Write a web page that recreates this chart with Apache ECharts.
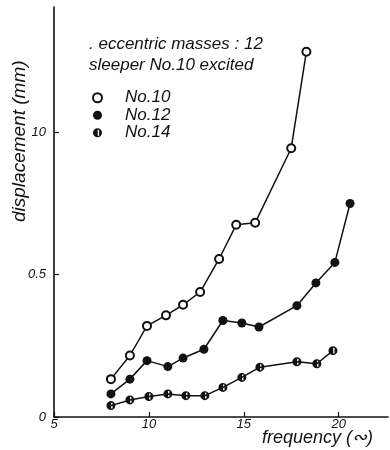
<!DOCTYPE html>
<html><head><meta charset="utf-8">
<script src="https://cdn.jsdelivr.net/npm/echarts@6/dist/echarts.min.js"></script>
<style>html,body{margin:0;padding:0;background:#fff}#c{width:390px;height:450px}</style>
</head><body><div id="c"></div>
<script>
// Data
var freq10 = [8.0, 9.0, 9.9, 10.9, 11.8, 12.7, 13.7, 14.6, 15.6, 17.5, 18.3];
var disp10 = [0.133, 0.216, 0.320, 0.357, 0.394, 0.439, 0.555, 0.675, 0.682, 0.944, 1.283];
var freq12 = [8.0, 9.0, 9.9, 11.0, 11.8, 12.9, 13.9, 14.9, 15.8, 17.8, 18.8, 19.8, 20.6];
var disp12 = [0.081, 0.133, 0.198, 0.177, 0.207, 0.238, 0.339, 0.330, 0.316, 0.391, 0.471, 0.543, 0.750];
var freq14 = [8.0, 9.0, 10.0, 11.0, 11.95, 12.95, 13.9, 14.9, 15.85, 17.8, 18.85, 19.7];
var disp14 = [0.040, 0.060, 0.072, 0.081, 0.075, 0.075, 0.104, 0.139, 0.175, 0.194, 0.187, 0.233];
var seriesNames = ['No.10', 'No.12', 'No.14'];
var xTickValues = [5, 10, 15, 20];
var xTickLabels = ['5', '10', '15', '20'];
var yTickValues = [0, 0.5, 1.0];
var yTickLabels = ['0', '0.5', '10'];
var noteLines = ['. eccentric masses : 12', 'sleeper No.10 excited'];
var xTitle = 'frequency (\u223E)';
var yTitle = 'displacement (mm)';

function pairs(xs, ys) { return xs.map(function (x, i) { return [x, ys[i]]; }); }
var halfSym = 'path://M-1,0 A1,1 0 1,1 1,0 A1,1 0 1,1 -1,0 Z M0.05,-0.65 L0.05,0.65 L0.35,0.65 L0.35,-0.65 Z';
var FONT = 'Liberation Sans';
var chart = echarts.init(document.getElementById('c'), null, {renderer: 'canvas'});
chart.setOption({
  animation: false,
  backgroundColor: '#fff',
  grid: {left: 54, top: 7, right: 2, bottom: 33, containLabel: false},
  title: {
    text: noteLines.join('\n'), left: 84, top: 29,
    textStyle: {fontFamily: FONT, fontStyle: 'italic', fontWeight: 'normal', fontSize: 17, lineHeight: 21, color: '#111'}
  },
  legend: {
    orient: 'vertical', left: 92, top: 89, padding: 0, itemWidth: 9, itemHeight: 9, itemGap: 0,
    data: [
      {name: seriesNames[0], icon: 'emptyCircle'},
      {name: seriesNames[1], icon: 'circle'},
      {name: seriesNames[2], icon: halfSym}
    ],
    textStyle: {fontFamily: FONT, fontStyle: 'italic', fontSize: 17, lineHeight: 17.5, color: '#111', padding: [0, 0, 0, 18]}
  },
  xAxis: {
    type: 'value', min: 5, max: 22.6, interval: 5,
    splitLine: {show: false},
    axisLine: {onZero: false, lineStyle: {color: '#111', width: 1.6}},
    axisTick: {inside: true, length: 5, customValues: xTickValues, lineStyle: {color: '#111', width: 1.2}},
    axisLabel: {customValues: xTickValues, margin: 1, color: '#111', fontFamily: FONT, fontStyle: 'italic', fontSize: 13,
      formatter: function (v) { var i = xTickValues.indexOf(v); return i >= 0 ? xTickLabels[i] : ''; }}
  },
  yAxis: {
    type: 'value', min: 0, max: 1.44, interval: 0.5,
    splitLine: {show: false},
    axisLine: {onZero: false, lineStyle: {color: '#111', width: 1.6}},
    axisTick: {inside: true, length: 5, customValues: yTickValues, lineStyle: {color: '#111', width: 1.2}},
    axisLabel: {customValues: yTickValues, margin: 8, color: '#111', fontFamily: FONT, fontStyle: 'italic', fontSize: 13,
      formatter: function (v) { var i = yTickValues.indexOf(v); return i >= 0 ? yTickLabels[i] : ''; }}
  },
  graphic: [
    {type: 'text', left: 262, top: 429, style: {text: xTitle, fontFamily: FONT, fontStyle: 'italic', fontSize: 18, fill: '#111'}},
    {type: 'text', x: 10, y: 222, rotation: Math.PI / 2, originX: 0, originY: 0,
      style: {text: yTitle, fontFamily: FONT, fontStyle: 'italic', fontSize: 19, fill: '#111'}}
  ],
  series: [
    {name: seriesNames[0], type: 'line', data: pairs(freq10, disp10), symbol: 'emptyCircle', symbolSize: 8,
      lineStyle: {color: '#111', width: 1.5}, itemStyle: {color: '#111', borderWidth: 1.5}},
    {name: seriesNames[1], type: 'line', data: pairs(freq12, disp12), symbol: 'circle', symbolSize: 9,
      lineStyle: {color: '#111', width: 1.5}, itemStyle: {color: '#111'}},
    {name: seriesNames[2], type: 'line', data: pairs(freq14, disp14), symbol: halfSym, symbolSize: 9,
      lineStyle: {color: '#111', width: 1.5}, itemStyle: {color: '#111'}}
  ]
});
</script></body></html>
